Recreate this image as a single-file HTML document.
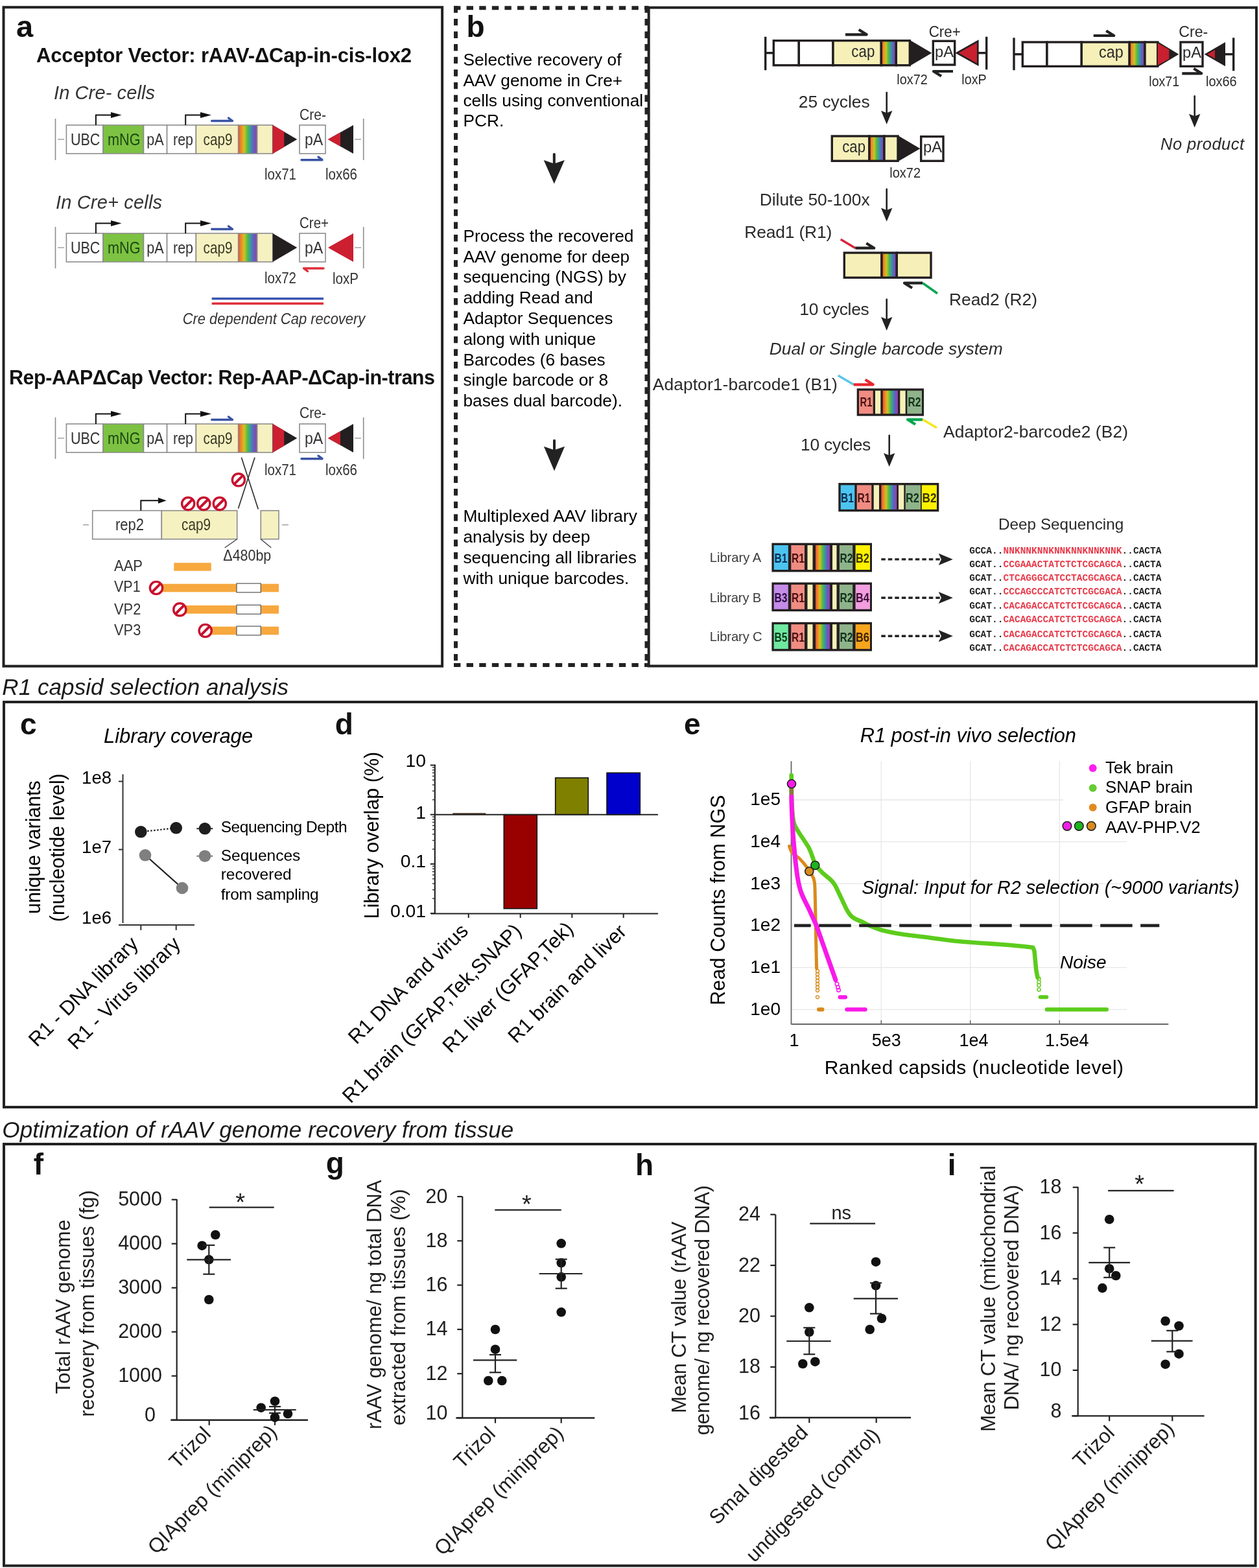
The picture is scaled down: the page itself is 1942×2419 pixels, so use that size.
<!DOCTYPE html>
<html><head><meta charset="utf-8"><title>Figure</title>
<style>html,body{margin:0;padding:0;background:#fff;}svg{display:block;}
text{font-family:"Liberation Sans",Arial,Helvetica,sans-serif;}</style></head>
<body><svg width="1942" height="2419" viewBox="0 0 1942 2419">
<rect width="1942" height="2419" fill="#fff"/>
<defs><linearGradient id="rb" x1="0" y1="0" x2="1" y2="0">
<stop offset="0" stop-color="#ee4a35"/><stop offset="0.15" stop-color="#f08a25"/><stop offset="0.32" stop-color="#c9c524"/>
<stop offset="0.48" stop-color="#55bb45"/><stop offset="0.64" stop-color="#3a9a9a"/><stop offset="0.8" stop-color="#5c62c2"/><stop offset="1" stop-color="#a03aa8"/></linearGradient></defs>
<rect x="5.5" y="11.2" width="676.6" height="1016.5" fill="none" stroke="#222" stroke-width="4.0" />
<text x="25.0" y="57.0" font-size="47.0" font-weight="bold" fill="#111">a</text>
<text x="56.0" y="96.0" font-size="31.0" font-weight="bold" fill="#111" textLength="579.0" lengthAdjust="spacing">Acceptor Vector: rAAV-ΔCap-in-cis-lox2</text>
<text x="83.0" y="153.3" font-size="29.0" font-style="italic" fill="#333" textLength="156.0" lengthAdjust="spacing">In Cre- cells</text>
<text x="86.0" y="321.7" font-size="29.0" font-style="italic" fill="#333" textLength="164.0" lengthAdjust="spacing">In Cre+ cells</text>
<line x1="85.5" y1="183.0" x2="85.5" y2="247.0" stroke="#8c8c8c" stroke-width="1.6" />
<line x1="89.0" y1="215.0" x2="99.0" y2="215.0" stroke="#8c8c8c" stroke-width="1.2" />
<rect x="102.4" y="193.0" width="56.7" height="44.0" fill="#fff" stroke="#8c8c8c" stroke-width="1.6" />
<rect x="159.1" y="193.0" width="62.4" height="44.0" fill="#7dc242" stroke="#8c8c8c" stroke-width="1.6" />
<rect x="221.5" y="193.0" width="36.1" height="44.0" fill="#fff" stroke="#8c8c8c" stroke-width="1.6" />
<rect x="257.6" y="193.0" width="44.8" height="44.0" fill="#fff" stroke="#8c8c8c" stroke-width="1.6" />
<rect x="302.4" y="193.0" width="65.3" height="44.0" fill="#f6f1c1" stroke="#8c8c8c" stroke-width="1.6" />
<rect x="367.7" y="193.0" width="29.0" height="44.0" fill="url(#rb)" stroke="#8c8c8c" stroke-width="1.6" />
<rect x="396.7" y="193.0" width="24.0" height="44.0" fill="#f6f1c1" stroke="#8c8c8c" stroke-width="1.6" />
<polygon points="420.7,193.0 420.7,237.0 458.3,215.0" fill="#231f20" stroke="none" stroke-width="1.0" />
<polygon points="420.7,193.0 438.3,203.3 438.3,226.7 420.7,237.0" fill="#cc1f30" stroke="none" stroke-width="1.0" />
<rect x="462.0" y="193.0" width="40.0" height="44.0" fill="#fff" stroke="#8c8c8c" stroke-width="1.6" />
<polygon points="506.0,215.0 545.0,193.0 545.0,237.0" fill="#231f20" stroke="none" stroke-width="1.0" />
<polygon points="506.0,215.0 525.0,204.3 525.0,225.7" fill="#cc1f30" stroke="none" stroke-width="1.0" />
<line x1="547.0" y1="215.0" x2="557.0" y2="215.0" stroke="#8c8c8c" stroke-width="1.2" />
<line x1="560.7" y1="183.0" x2="560.7" y2="247.0" stroke="#8c8c8c" stroke-width="1.6" />
<text x="108.9" y="223.7" font-size="25.6" fill="#333" textLength="45.5" lengthAdjust="spacingAndGlyphs">UBC</text>
<text x="166.0" y="223.7" font-size="25.6" fill="#1b4a12" textLength="50.5" lengthAdjust="spacingAndGlyphs">mNG</text>
<text x="226.2" y="223.7" font-size="25.6" fill="#333" textLength="26.4" lengthAdjust="spacingAndGlyphs">pA</text>
<text x="267.0" y="223.7" font-size="25.6" fill="#333" textLength="31.0" lengthAdjust="spacingAndGlyphs">rep</text>
<text x="313.5" y="223.7" font-size="25.6" fill="#3b3a25" textLength="45.0" lengthAdjust="spacingAndGlyphs">cap9</text>
<text x="470.0" y="223.7" font-size="25.6" fill="#333" textLength="28.3" lengthAdjust="spacingAndGlyphs">pA</text>
<polyline points="147.9,193.0 147.9,177.5 173.0,177.5" fill="none" stroke="#111" stroke-width="2.0" />
<polygon points="171.0,173.0 187.6,177.5 171.0,182.0" fill="#111" stroke="none" stroke-width="1.0" />
<polyline points="286.2,193.0 286.2,177.5 311.0,177.5" fill="none" stroke="#111" stroke-width="2.0" />
<polygon points="309.0,173.0 326.0,177.5 309.0,182.0" fill="#111" stroke="none" stroke-width="1.0" />
<polyline points="326.7,186.5 358.5,186.5 352.5,182.0" fill="none" stroke="#3953a4" stroke-width="3.4" stroke-linejoin="round" stroke-linecap="round"/>
<text x="462.0" y="185.0" font-size="23.0" fill="#333" textLength="41.0" lengthAdjust="spacingAndGlyphs">Cre-</text>
<text x="408.0" y="276.7" font-size="23.0" fill="#333" textLength="49.0" lengthAdjust="spacingAndGlyphs">lox71</text>
<text x="502.0" y="276.7" font-size="23.0" fill="#333" textLength="49.0" lengthAdjust="spacingAndGlyphs">lox66</text>
<polyline points="465.0,246.7 497.0,246.7 491.0,242.2" fill="none" stroke="#3953a4" stroke-width="3.4" stroke-linejoin="round" stroke-linecap="round"/>
<line x1="85.5" y1="350.0" x2="85.5" y2="414.0" stroke="#8c8c8c" stroke-width="1.6" />
<line x1="89.0" y1="382.0" x2="99.0" y2="382.0" stroke="#8c8c8c" stroke-width="1.2" />
<rect x="102.4" y="360.0" width="56.7" height="44.0" fill="#fff" stroke="#8c8c8c" stroke-width="1.6" />
<rect x="159.1" y="360.0" width="62.4" height="44.0" fill="#7dc242" stroke="#8c8c8c" stroke-width="1.6" />
<rect x="221.5" y="360.0" width="36.1" height="44.0" fill="#fff" stroke="#8c8c8c" stroke-width="1.6" />
<rect x="257.6" y="360.0" width="44.8" height="44.0" fill="#fff" stroke="#8c8c8c" stroke-width="1.6" />
<rect x="302.4" y="360.0" width="65.3" height="44.0" fill="#f6f1c1" stroke="#8c8c8c" stroke-width="1.6" />
<rect x="367.7" y="360.0" width="29.0" height="44.0" fill="url(#rb)" stroke="#8c8c8c" stroke-width="1.6" />
<rect x="396.7" y="360.0" width="24.0" height="44.0" fill="#f6f1c1" stroke="#8c8c8c" stroke-width="1.6" />
<polygon points="420.7,360.0 420.7,404.0 458.3,382.0" fill="#231f20" stroke="none" stroke-width="1.0" />
<rect x="462.0" y="360.0" width="40.0" height="44.0" fill="#fff" stroke="#8c8c8c" stroke-width="1.6" />
<polygon points="506.0,382.0 545.0,360.0 545.0,404.0" fill="#cc1f30" stroke="none" stroke-width="1.0" />
<line x1="547.0" y1="382.0" x2="557.0" y2="382.0" stroke="#8c8c8c" stroke-width="1.2" />
<line x1="560.7" y1="350.0" x2="560.7" y2="414.0" stroke="#8c8c8c" stroke-width="1.6" />
<text x="108.9" y="390.7" font-size="25.6" fill="#333" textLength="45.5" lengthAdjust="spacingAndGlyphs">UBC</text>
<text x="166.0" y="390.7" font-size="25.6" fill="#1b4a12" textLength="50.5" lengthAdjust="spacingAndGlyphs">mNG</text>
<text x="226.2" y="390.7" font-size="25.6" fill="#333" textLength="26.4" lengthAdjust="spacingAndGlyphs">pA</text>
<text x="267.0" y="390.7" font-size="25.6" fill="#333" textLength="31.0" lengthAdjust="spacingAndGlyphs">rep</text>
<text x="313.5" y="390.7" font-size="25.6" fill="#3b3a25" textLength="45.0" lengthAdjust="spacingAndGlyphs">cap9</text>
<text x="470.0" y="390.7" font-size="25.6" fill="#333" textLength="28.3" lengthAdjust="spacingAndGlyphs">pA</text>
<polyline points="147.9,360.0 147.9,344.5 173.0,344.5" fill="none" stroke="#111" stroke-width="2.0" />
<polygon points="171.0,340.0 187.6,344.5 171.0,349.0" fill="#111" stroke="none" stroke-width="1.0" />
<polyline points="286.2,360.0 286.2,344.5 311.0,344.5" fill="none" stroke="#111" stroke-width="2.0" />
<polygon points="309.0,340.0 326.0,344.5 309.0,349.0" fill="#111" stroke="none" stroke-width="1.0" />
<polyline points="326.7,353.5 358.5,353.5 352.5,349.0" fill="none" stroke="#3953a4" stroke-width="3.4" stroke-linejoin="round" stroke-linecap="round"/>
<text x="462.0" y="351.7" font-size="23.0" fill="#333" textLength="45.0" lengthAdjust="spacingAndGlyphs">Cre+</text>
<text x="408.0" y="436.7" font-size="23.0" fill="#333" textLength="49.0" lengthAdjust="spacingAndGlyphs">lox72</text>
<text x="513.0" y="438.0" font-size="23.0" fill="#333" textLength="40.0" lengthAdjust="spacingAndGlyphs">loxP</text>
<polyline points="499.0,414.0 468.5,414.0 474.5,418.5" fill="none" stroke="#e0303a" stroke-width="3.4" stroke-linejoin="round" stroke-linecap="round"/>
<line x1="326.7" y1="460.7" x2="499.0" y2="460.7" stroke="#3a56b0" stroke-width="3.4" />
<line x1="326.7" y1="468.3" x2="499.0" y2="468.3" stroke="#e0303a" stroke-width="3.4" />
<text x="281.7" y="500.0" font-size="24.5" font-style="italic" fill="#333" textLength="281.6" lengthAdjust="spacingAndGlyphs">Cre dependent Cap recovery</text>
<text x="14.0" y="592.7" font-size="30.5" font-weight="bold" fill="#111" textLength="657.0" lengthAdjust="spacing">Rep-AAPΔCap Vector: Rep-AAP-ΔCap-in-trans</text>
<line x1="85.5" y1="644.0" x2="85.5" y2="708.0" stroke="#8c8c8c" stroke-width="1.6" />
<line x1="89.0" y1="676.0" x2="99.0" y2="676.0" stroke="#8c8c8c" stroke-width="1.2" />
<rect x="102.4" y="654.0" width="56.7" height="44.0" fill="#fff" stroke="#8c8c8c" stroke-width="1.6" />
<rect x="159.1" y="654.0" width="62.4" height="44.0" fill="#7dc242" stroke="#8c8c8c" stroke-width="1.6" />
<rect x="221.5" y="654.0" width="36.1" height="44.0" fill="#fff" stroke="#8c8c8c" stroke-width="1.6" />
<rect x="257.6" y="654.0" width="44.8" height="44.0" fill="#fff" stroke="#8c8c8c" stroke-width="1.6" />
<rect x="302.4" y="654.0" width="65.3" height="44.0" fill="#f6f1c1" stroke="#8c8c8c" stroke-width="1.6" />
<rect x="367.7" y="654.0" width="29.0" height="44.0" fill="url(#rb)" stroke="#8c8c8c" stroke-width="1.6" />
<rect x="396.7" y="654.0" width="24.0" height="44.0" fill="#f6f1c1" stroke="#8c8c8c" stroke-width="1.6" />
<polygon points="420.7,654.0 420.7,698.0 458.3,676.0" fill="#231f20" stroke="none" stroke-width="1.0" />
<polygon points="420.7,654.0 438.3,664.3 438.3,687.7 420.7,698.0" fill="#cc1f30" stroke="none" stroke-width="1.0" />
<rect x="462.0" y="654.0" width="40.0" height="44.0" fill="#fff" stroke="#8c8c8c" stroke-width="1.6" />
<polygon points="506.0,676.0 545.0,654.0 545.0,698.0" fill="#231f20" stroke="none" stroke-width="1.0" />
<polygon points="506.0,676.0 525.0,665.3 525.0,686.7" fill="#cc1f30" stroke="none" stroke-width="1.0" />
<line x1="547.0" y1="676.0" x2="557.0" y2="676.0" stroke="#8c8c8c" stroke-width="1.2" />
<line x1="560.7" y1="644.0" x2="560.7" y2="708.0" stroke="#8c8c8c" stroke-width="1.6" />
<text x="108.9" y="684.7" font-size="25.6" fill="#333" textLength="45.5" lengthAdjust="spacingAndGlyphs">UBC</text>
<text x="166.0" y="684.7" font-size="25.6" fill="#1b4a12" textLength="50.5" lengthAdjust="spacingAndGlyphs">mNG</text>
<text x="226.2" y="684.7" font-size="25.6" fill="#333" textLength="26.4" lengthAdjust="spacingAndGlyphs">pA</text>
<text x="267.0" y="684.7" font-size="25.6" fill="#333" textLength="31.0" lengthAdjust="spacingAndGlyphs">rep</text>
<text x="313.5" y="684.7" font-size="25.6" fill="#3b3a25" textLength="45.0" lengthAdjust="spacingAndGlyphs">cap9</text>
<text x="470.0" y="684.7" font-size="25.6" fill="#333" textLength="28.3" lengthAdjust="spacingAndGlyphs">pA</text>
<polyline points="147.9,654.0 147.9,638.5 173.0,638.5" fill="none" stroke="#111" stroke-width="2.0" />
<polygon points="171.0,634.0 187.6,638.5 171.0,643.0" fill="#111" stroke="none" stroke-width="1.0" />
<polyline points="286.2,654.0 286.2,638.5 311.0,638.5" fill="none" stroke="#111" stroke-width="2.0" />
<polygon points="309.0,634.0 326.0,638.5 309.0,643.0" fill="#111" stroke="none" stroke-width="1.0" />
<polyline points="326.7,647.5 358.5,647.5 352.5,643.0" fill="none" stroke="#3953a4" stroke-width="3.4" stroke-linejoin="round" stroke-linecap="round"/>
<text x="462.0" y="645.0" font-size="23.0" fill="#333" textLength="41.0" lengthAdjust="spacingAndGlyphs">Cre-</text>
<text x="408.0" y="733.3" font-size="23.0" fill="#333" textLength="49.0" lengthAdjust="spacingAndGlyphs">lox71</text>
<text x="502.0" y="733.3" font-size="23.0" fill="#333" textLength="49.0" lengthAdjust="spacingAndGlyphs">lox66</text>
<polyline points="465.0,707.7 497.0,707.7 491.0,703.2" fill="none" stroke="#3953a4" stroke-width="3.4" stroke-linejoin="round" stroke-linecap="round"/>
<line x1="372.4" y1="705.8" x2="398.3" y2="785.4" stroke="#333" stroke-width="1.7" />
<line x1="393.0" y1="705.8" x2="367.5" y2="784.6" stroke="#333" stroke-width="1.7" />
<circle cx="367.9" cy="740.3" r="9.6" fill="#fff" stroke="#c8102e" stroke-width="3.4" />
<line x1="361.3" y1="746.9" x2="374.5" y2="733.7" stroke="#c8102e" stroke-width="4.0" />
<line x1="128.0" y1="809.7" x2="137.0" y2="809.7" stroke="#8c8c8c" stroke-width="1.2" />
<rect x="142.7" y="787.7" width="106.6" height="44.0" fill="#fff" stroke="#8c8c8c" stroke-width="1.6" />
<rect x="249.3" y="787.7" width="116.4" height="44.0" fill="#f6f1c1" stroke="#8c8c8c" stroke-width="1.6" />
<rect x="402.3" y="787.7" width="27.7" height="44.0" fill="#f6f1c1" stroke="#8c8c8c" stroke-width="1.6" />
<line x1="435.0" y1="809.7" x2="445.0" y2="809.7" stroke="#8c8c8c" stroke-width="1.2" />
<text x="178.0" y="818.3" font-size="25.6" fill="#333" textLength="44.0" lengthAdjust="spacingAndGlyphs">rep2</text>
<text x="280.0" y="818.3" font-size="25.6" fill="#3b3a25" textLength="45.0" lengthAdjust="spacingAndGlyphs">cap9</text>
<polyline points="217.3,787.7 217.3,772.2 246.0,772.2" fill="none" stroke="#111" stroke-width="2.0" />
<polygon points="244.0,767.7 256.7,772.2 244.0,776.7" fill="#111" stroke="none" stroke-width="1.0" />
<circle cx="290.2" cy="777.1" r="9.6" fill="#fff" stroke="#c8102e" stroke-width="3.4" />
<line x1="283.6" y1="783.7" x2="296.8" y2="770.5" stroke="#c8102e" stroke-width="4.0" />
<circle cx="314.3" cy="777.1" r="9.6" fill="#fff" stroke="#c8102e" stroke-width="3.4" />
<line x1="307.7" y1="783.7" x2="320.9" y2="770.5" stroke="#c8102e" stroke-width="4.0" />
<circle cx="338.8" cy="777.1" r="9.6" fill="#fff" stroke="#c8102e" stroke-width="3.4" />
<line x1="332.2" y1="783.7" x2="345.4" y2="770.5" stroke="#c8102e" stroke-width="4.0" />
<line x1="365.7" y1="831.7" x2="346.7" y2="845.0" stroke="#444" stroke-width="1.4" />
<line x1="402.3" y1="831.7" x2="418.3" y2="845.0" stroke="#444" stroke-width="1.4" />
<text x="344.3" y="865.0" font-size="24.0" fill="#333" textLength="74.0" lengthAdjust="spacingAndGlyphs">Δ480bp</text>
<text x="176.0" y="880.7" font-size="24.0" fill="#333" textLength="44.0" lengthAdjust="spacingAndGlyphs">AAP</text>
<rect x="268.3" y="868.3" width="57.4" height="12.4" fill="#f7a83e" stroke="none" stroke-width="1.0" />
<text x="176.0" y="913.3" font-size="24.0" fill="#333" textLength="40.7" lengthAdjust="spacingAndGlyphs">VP1</text>
<text x="176.0" y="948.3" font-size="24.0" fill="#333" textLength="41.3" lengthAdjust="spacingAndGlyphs">VP2</text>
<text x="176.0" y="980.0" font-size="24.0" fill="#333" textLength="41.3" lengthAdjust="spacingAndGlyphs">VP3</text>
<rect x="248.3" y="900.7" width="181.7" height="12.6" fill="#f7a83e" stroke="none" stroke-width="1.0" />
<rect x="365.0" y="900.1" width="37.3" height="13.8" fill="#fff" stroke="#555" stroke-width="1.2" />
<circle cx="241.0" cy="907.0" r="9.6" fill="#fff" stroke="#c8102e" stroke-width="3.4" />
<line x1="234.4" y1="913.6" x2="247.6" y2="900.4" stroke="#c8102e" stroke-width="4.0" />
<rect x="286.7" y="934.0" width="143.3" height="12.7" fill="#f7a83e" stroke="none" stroke-width="1.0" />
<rect x="365.0" y="933.4" width="37.3" height="13.9" fill="#fff" stroke="#555" stroke-width="1.2" />
<circle cx="277.3" cy="940.4" r="9.6" fill="#fff" stroke="#c8102e" stroke-width="3.4" />
<line x1="270.7" y1="947.0" x2="283.9" y2="933.8" stroke="#c8102e" stroke-width="4.0" />
<rect x="325.0" y="966.7" width="105.0" height="12.6" fill="#f7a83e" stroke="none" stroke-width="1.0" />
<rect x="365.0" y="966.1" width="37.3" height="13.8" fill="#fff" stroke="#555" stroke-width="1.2" />
<circle cx="316.7" cy="973.0" r="9.6" fill="#fff" stroke="#c8102e" stroke-width="3.4" />
<line x1="310.1" y1="979.6" x2="323.3" y2="966.4" stroke="#c8102e" stroke-width="4.0" />
<line x1="700.0" y1="12.3" x2="1000.5" y2="12.3" stroke="#222" stroke-width="6.0" stroke-dasharray="10.4 9.2"/>
<line x1="700.0" y1="1026.1" x2="1000.5" y2="1026.1" stroke="#222" stroke-width="6.0" stroke-dasharray="10.4 9.2"/>
<line x1="703.0" y1="9.3" x2="703.0" y2="1029.0" stroke="#222" stroke-width="6.0" stroke-dasharray="10.4 9.2"/>
<line x1="997.5" y1="9.3" x2="997.5" y2="1029.0" stroke="#222" stroke-width="6.0" stroke-dasharray="10.4 9.2"/>
<text x="719.5" y="56.7" font-size="46.0" font-weight="bold" fill="#111">b</text>
<text x="714.4" y="101.1" font-size="26.3">Selective recovery of</text>
<text x="714.4" y="132.5" font-size="26.3">AAV genome in Cre+</text>
<text x="714.4" y="163.9" font-size="26.3">cells using conventional</text>
<text x="714.4" y="195.3" font-size="26.3">PCR.</text>
<text x="714.4" y="372.7" font-size="26.3">Process the recovered</text>
<text x="714.4" y="404.5" font-size="26.3">AAV genome for deep</text>
<text x="714.4" y="436.3" font-size="26.3">sequencing (NGS) by</text>
<text x="714.4" y="468.1" font-size="26.3">adding Read and</text>
<text x="714.4" y="499.9" font-size="26.3">Adaptor Sequences</text>
<text x="714.4" y="531.7" font-size="26.3">along with unique</text>
<text x="714.4" y="563.5" font-size="26.3">Barcodes (6 bases</text>
<text x="714.4" y="595.3" font-size="26.3">single barcode or 8</text>
<text x="714.4" y="627.1" font-size="26.3">bases dual barcode).</text>
<text x="714.4" y="805.3" font-size="26.3">Multiplexed AAV library</text>
<text x="714.4" y="837.1" font-size="26.3">analysis by deep</text>
<text x="714.4" y="868.9" font-size="26.3">sequencing all libraries</text>
<text x="714.4" y="900.7" font-size="26.3">with unique barcodes.</text>
<line x1="854.8" y1="237.9" x2="854.8" y2="255.0" stroke="#222" stroke-width="4.0" stroke-linecap="round"/>
<polygon points="838.7,247.0 854.8,252.5 870.9,247.0 854.8,283.6" fill="#222" stroke="none" stroke-width="1.0" />
<line x1="855.0" y1="679.7" x2="855.0" y2="696.8" stroke="#222" stroke-width="4.0" stroke-linecap="round"/>
<polygon points="838.9,688.8 855.0,694.3 871.1,688.8 855.0,726.5" fill="#222" stroke="none" stroke-width="1.0" />
<rect x="1000.7" y="11.7" width="937.3" height="1015.8" fill="none" stroke="#222" stroke-width="4.0" />
<line x1="1180.7" y1="56.7" x2="1180.7" y2="108.3" stroke="#231f20" stroke-width="3.4" />
<line x1="1180.7" y1="81.7" x2="1193.3" y2="81.7" stroke="#231f20" stroke-width="3.4" />
<rect x="1193.3" y="62.7" width="39.0" height="38.0" fill="#fff" stroke="#231f20" stroke-width="3.4" />
<rect x="1232.3" y="62.7" width="52.7" height="38.0" fill="#fff" stroke="#231f20" stroke-width="3.4" />
<rect x="1285.0" y="62.7" width="74.3" height="38.0" fill="#f6f0b8" stroke="#231f20" stroke-width="3.4" />
<rect x="1359.3" y="62.7" width="23.0" height="38.0" fill="url(#rb)" stroke="#231f20" stroke-width="3.4" />
<rect x="1382.3" y="62.7" width="21.0" height="38.0" fill="#f6f0b8" stroke="#231f20" stroke-width="3.4" />
<polygon points="1403.3,61.7 1403.3,101.7 1437.3,81.7" fill="#231f20" stroke="none" stroke-width="1.0" />
<rect x="1439.3" y="63.3" width="33.4" height="36.7" fill="#fff" stroke="#231f20" stroke-width="3.4" />
<polygon points="1476.0,81.7 1508.3,63.5 1508.3,99.9" fill="#c8202f" stroke="#231f20" stroke-width="2.6" />
<line x1="1508.3" y1="81.7" x2="1521.7" y2="81.7" stroke="#231f20" stroke-width="3.4" />
<line x1="1521.7" y1="56.7" x2="1521.7" y2="107.3" stroke="#231f20" stroke-width="3.4" />
<text x="1313.3" y="88.3" font-size="25.0" fill="#2a2a2a" textLength="36.0" lengthAdjust="spacingAndGlyphs">cap</text>
<text x="1442.0" y="88.3" font-size="23.0" fill="#2a2a2a" textLength="29.0" lengthAdjust="spacingAndGlyphs">pA</text>
<text x="1432.7" y="56.7" font-size="23.5" fill="#2a2a2a" textLength="49.0" lengthAdjust="spacingAndGlyphs">Cre+</text>
<text x="1383.3" y="130.0" font-size="21.5" fill="#2a2a2a" textLength="47.4" lengthAdjust="spacingAndGlyphs">lox72</text>
<text x="1483.3" y="130.0" font-size="21.5" fill="#2a2a2a" textLength="38.4" lengthAdjust="spacingAndGlyphs">loxP</text>
<polyline points="1304.0,53.3 1336.7,53.3 1324.7,45.8" fill="none" stroke="#222" stroke-width="4.2" stroke-linejoin="round"/>
<polyline points="1470.0,110.0 1440.0,110.0 1452.0,117.5" fill="none" stroke="#222" stroke-width="4.2" stroke-linejoin="round"/>
<line x1="1564.0" y1="58.3" x2="1564.0" y2="108.3" stroke="#231f20" stroke-width="3.4" />
<line x1="1564.0" y1="83.7" x2="1577.3" y2="83.7" stroke="#231f20" stroke-width="3.4" />
<rect x="1577.3" y="65.0" width="37.7" height="37.3" fill="#fff" stroke="#231f20" stroke-width="3.4" />
<rect x="1615.0" y="65.0" width="53.3" height="37.3" fill="#fff" stroke="#231f20" stroke-width="3.4" />
<rect x="1668.3" y="65.0" width="73.9" height="37.3" fill="#f6f0b8" stroke="#231f20" stroke-width="3.4" />
<rect x="1742.2" y="65.0" width="23.8" height="37.3" fill="url(#rb)" stroke="#231f20" stroke-width="3.4" />
<rect x="1766.0" y="65.0" width="19.7" height="37.3" fill="#f6f0b8" stroke="#231f20" stroke-width="3.4" />
<polygon points="1785.7,64.0 1785.7,103.3 1818.3,83.7" fill="#231f20" stroke="none" stroke-width="1.0" />
<polygon points="1785.7,66.5 1803.3,76.5 1803.3,90.8 1785.7,100.8" fill="#c8202f" stroke="none" stroke-width="1.0" />
<rect x="1821.0" y="65.0" width="34.0" height="37.3" fill="#fff" stroke="#231f20" stroke-width="3.4" />
<polygon points="1857.7,83.7 1890.0,65.0 1890.0,102.3" fill="#231f20" stroke="none" stroke-width="1.0" />
<polygon points="1862.5,83.7 1874.0,77.0 1874.0,90.4" fill="#c8202f" stroke="none" stroke-width="1.0" />
<line x1="1890.0" y1="83.7" x2="1902.7" y2="83.7" stroke="#231f20" stroke-width="3.4" />
<line x1="1902.7" y1="58.3" x2="1902.7" y2="109.3" stroke="#231f20" stroke-width="3.4" />
<text x="1695.0" y="89.3" font-size="25.0" fill="#2a2a2a" textLength="37.7" lengthAdjust="spacingAndGlyphs">cap</text>
<text x="1824.0" y="89.3" font-size="23.0" fill="#2a2a2a" textLength="29.0" lengthAdjust="spacingAndGlyphs">pA</text>
<text x="1818.3" y="57.3" font-size="23.5" fill="#2a2a2a" textLength="45.0" lengthAdjust="spacingAndGlyphs">Cre-</text>
<text x="1772.3" y="132.7" font-size="21.5" fill="#2a2a2a" textLength="46.7" lengthAdjust="spacingAndGlyphs">lox71</text>
<text x="1860.0" y="132.7" font-size="21.5" fill="#2a2a2a" textLength="47.7" lengthAdjust="spacingAndGlyphs">lox66</text>
<polyline points="1686.7,55.0 1718.3,55.0 1706.3,47.5" fill="none" stroke="#222" stroke-width="4.2" stroke-linejoin="round"/>
<polyline points="1823.3,113.3 1853.3,113.3 1841.3,105.8" fill="none" stroke="#222" stroke-width="4.2" stroke-linejoin="round"/>
<line x1="1842.7" y1="148.3" x2="1842.7" y2="186.7" stroke="#222" stroke-width="2.6" stroke-linecap="round"/>
<polygon points="1834.0,175.7 1842.7,179.3 1851.4,175.7 1842.7,196.7" fill="#222" stroke="none" stroke-width="1.0" />
<text x="1790.0" y="230.7" font-size="25.5" font-style="italic" fill="#2a2a2a" textLength="129.0" lengthAdjust="spacing">No product</text>
<text x="1231.7" y="165.7" font-size="26.4" fill="#2a2a2a" textLength="110.0" lengthAdjust="spacing">25 cycles</text>
<line x1="1367.7" y1="142.7" x2="1367.7" y2="181.7" stroke="#222" stroke-width="2.6" stroke-linecap="round"/>
<polygon points="1359.0,170.7 1367.7,174.3 1376.4,170.7 1367.7,191.7" fill="#222" stroke="none" stroke-width="1.0" />
<rect x="1283.3" y="210.0" width="57.7" height="38.3" fill="#f6f0b8" stroke="#231f20" stroke-width="3.4" />
<rect x="1341.0" y="210.0" width="23.0" height="38.3" fill="url(#rb)" stroke="#231f20" stroke-width="3.4" />
<rect x="1364.0" y="210.0" width="21.0" height="38.3" fill="#f6f0b8" stroke="#231f20" stroke-width="3.4" />
<polygon points="1385.0,209.0 1385.0,249.3 1419.3,229.2" fill="#231f20" stroke="none" stroke-width="1.0" />
<rect x="1420.7" y="210.7" width="34.3" height="37.6" fill="#fff" stroke="#231f20" stroke-width="3.4" />
<text x="1299.3" y="235.0" font-size="25.0" fill="#2a2a2a" textLength="35.7" lengthAdjust="spacingAndGlyphs">cap</text>
<text x="1424.0" y="235.0" font-size="23.0" fill="#2a2a2a" textLength="29.0" lengthAdjust="spacingAndGlyphs">pA</text>
<text x="1372.3" y="274.0" font-size="21.5" fill="#2a2a2a" textLength="47.7" lengthAdjust="spacingAndGlyphs">lox72</text>
<text x="1171.7" y="316.7" font-size="26.4" fill="#2a2a2a" textLength="170.0" lengthAdjust="spacing">Dilute 50-100x</text>
<line x1="1367.7" y1="291.7" x2="1367.7" y2="331.7" stroke="#222" stroke-width="2.6" stroke-linecap="round"/>
<polygon points="1359.0,320.7 1367.7,324.3 1376.4,320.7 1367.7,341.7" fill="#222" stroke="none" stroke-width="1.0" />
<text x="1148.3" y="367.3" font-size="26.4" fill="#2a2a2a" textLength="135.0" lengthAdjust="spacing">Read1 (R1)</text>
<line x1="1296.7" y1="369.3" x2="1319.3" y2="382.7" stroke="#d7263d" stroke-width="3.6" />
<polyline points="1319.3,382.7 1348.3,382.7 1336.3,375.2" fill="none" stroke="#222" stroke-width="4.2" stroke-linejoin="round"/>
<rect x="1302.3" y="390.0" width="57.7" height="38.3" fill="#f6f0b8" stroke="#231f20" stroke-width="3.4" />
<rect x="1360.0" y="390.0" width="23.3" height="38.3" fill="url(#rb)" stroke="#231f20" stroke-width="3.4" />
<rect x="1383.3" y="390.0" width="52.7" height="38.3" fill="#f6f0b8" stroke="#231f20" stroke-width="3.4" />
<polyline points="1423.3,436.7 1395.0,436.7 1407.0,444.2" fill="none" stroke="#222" stroke-width="4.2" stroke-linejoin="round"/>
<line x1="1423.3" y1="436.7" x2="1446.0" y2="452.7" stroke="#00a651" stroke-width="3.6" />
<text x="1464.0" y="470.7" font-size="26.4" fill="#2a2a2a" textLength="136.0" lengthAdjust="spacing">Read2 (R2)</text>
<text x="1233.3" y="485.7" font-size="26.4" fill="#2a2a2a" textLength="107.4" lengthAdjust="spacing">10 cycles</text>
<line x1="1367.7" y1="461.7" x2="1367.7" y2="500.0" stroke="#222" stroke-width="2.6" stroke-linecap="round"/>
<polygon points="1359.0,489.0 1367.7,492.6 1376.4,489.0 1367.7,510.0" fill="#222" stroke="none" stroke-width="1.0" />
<text x="1186.7" y="546.7" font-size="26.4" font-style="italic" fill="#2a2a2a" textLength="360.0" lengthAdjust="spacing">Dual or Single barcode system</text>
<text x="1006.7" y="601.7" font-size="26.4" fill="#2a2a2a" textLength="285.0" lengthAdjust="spacing">Adaptor1-barcode1 (B1)</text>
<line x1="1292.7" y1="579.3" x2="1316.7" y2="593.3" stroke="#5bc5e8" stroke-width="3.6" />
<polyline points="1316.7,593.3 1346.7,593.3 1334.7,585.8" fill="none" stroke="#e8262d" stroke-width="4.2" stroke-linejoin="round"/>
<rect x="1321.7" y="599.3" width="103.3" height="42.4" fill="#231f20" stroke="none" stroke-width="1.0" />
<rect x="1325.0" y="602.7" width="21.7" height="35.6" fill="#f08c82" stroke="none" stroke-width="1.0" />
<rect x="1350.0" y="602.7" width="8.3" height="35.6" fill="#f6f0b8" stroke="none" stroke-width="1.0" />
<rect x="1361.7" y="602.7" width="23.3" height="35.6" fill="url(#rb)" stroke="none" stroke-width="1.0" />
<rect x="1388.3" y="602.7" width="8.4" height="35.6" fill="#f6f0b8" stroke="none" stroke-width="1.0" />
<rect x="1399.3" y="602.7" width="22.7" height="35.6" fill="#8fb38a" stroke="none" stroke-width="1.0" />
<text x="1326.5" y="627.0" font-size="19.5" font-weight="bold" fill="#4a1010" textLength="19.0" lengthAdjust="spacingAndGlyphs">R1</text>
<text x="1400.5" y="627.0" font-size="19.5" font-weight="bold" fill="#12321a" textLength="20.0" lengthAdjust="spacingAndGlyphs">R2</text>
<polyline points="1423.3,647.3 1400.0,647.3 1412.0,654.8" fill="none" stroke="#00a651" stroke-width="4.2" stroke-linejoin="round"/>
<line x1="1423.3" y1="647.3" x2="1445.0" y2="660.0" stroke="#f5e61c" stroke-width="3.6" />
<text x="1455.0" y="675.0" font-size="26.4" fill="#2a2a2a" textLength="285.0" lengthAdjust="spacing">Adaptor2-barcode2 (B2)</text>
<text x="1235.0" y="695.0" font-size="26.4" fill="#2a2a2a" textLength="108.3" lengthAdjust="spacing">10 cycles</text>
<line x1="1371.7" y1="671.7" x2="1371.7" y2="710.0" stroke="#222" stroke-width="2.6" stroke-linecap="round"/>
<polygon points="1363.0,699.0 1371.7,702.6 1380.4,699.0 1371.7,720.0" fill="#222" stroke="none" stroke-width="1.0" />
<rect x="1293.3" y="745.0" width="155.0" height="44.3" fill="#231f20" stroke="none" stroke-width="1.0" />
<rect x="1296.7" y="748.4" width="21.6" height="37.5" fill="#4cc4f0" stroke="none" stroke-width="1.0" />
<rect x="1321.7" y="748.4" width="22.6" height="37.5" fill="#f08c82" stroke="none" stroke-width="1.0" />
<rect x="1347.7" y="748.4" width="8.3" height="37.5" fill="#f6f0b8" stroke="none" stroke-width="1.0" />
<rect x="1359.3" y="748.4" width="24.0" height="37.5" fill="url(#rb)" stroke="none" stroke-width="1.0" />
<rect x="1386.0" y="748.4" width="8.3" height="37.5" fill="#f6f0b8" stroke="none" stroke-width="1.0" />
<rect x="1396.7" y="748.4" width="23.3" height="37.5" fill="#8fb38a" stroke="none" stroke-width="1.0" />
<rect x="1421.7" y="748.4" width="23.3" height="37.5" fill="#fff200" stroke="none" stroke-width="1.0" />
<text x="1297.0" y="775.0" font-size="19.5" font-weight="bold" fill="#0b2d52" textLength="20.0" lengthAdjust="spacingAndGlyphs">B1</text>
<text x="1322.5" y="775.0" font-size="19.5" font-weight="bold" fill="#4a1010" textLength="20.0" lengthAdjust="spacingAndGlyphs">R1</text>
<text x="1397.0" y="775.0" font-size="19.5" font-weight="bold" fill="#12321a" textLength="21.0" lengthAdjust="spacingAndGlyphs">R2</text>
<text x="1422.5" y="775.0" font-size="19.5" font-weight="bold" fill="#3a3400" textLength="22.0" lengthAdjust="spacingAndGlyphs">B2</text>
<text x="1540.0" y="816.7" font-size="24.3" fill="#2a2a2a" textLength="193.3" lengthAdjust="spacing">Deep Sequencing</text>
<rect x="1190.4" y="837.7" width="154.6" height="44.7" fill="#231f20" stroke="none" stroke-width="1.0" />
<rect x="1193.7" y="841.1" width="22.1" height="37.9" fill="#4cc4f0" stroke="none" stroke-width="1.0" />
<rect x="1220.3" y="841.1" width="20.7" height="37.9" fill="#f08c82" stroke="none" stroke-width="1.0" />
<rect x="1245.5" y="841.1" width="8.0" height="37.9" fill="#f6f0b8" stroke="none" stroke-width="1.0" />
<rect x="1258.0" y="841.1" width="22.0" height="37.9" fill="url(#rb)" stroke="none" stroke-width="1.0" />
<rect x="1284.0" y="841.1" width="6.5" height="37.9" fill="#f6f0b8" stroke="none" stroke-width="1.0" />
<rect x="1294.9" y="841.1" width="20.3" height="37.9" fill="#8fb38a" stroke="none" stroke-width="1.0" />
<rect x="1319.6" y="841.1" width="22.4" height="37.9" fill="#fff200" stroke="none" stroke-width="1.0" />
<text x="1194.5" y="867.7" font-size="19.5" font-weight="bold" fill="#0b2d52" textLength="20.0" lengthAdjust="spacingAndGlyphs">B1</text>
<text x="1221.0" y="867.7" font-size="19.5" font-weight="bold" fill="#4a1010" textLength="20.0" lengthAdjust="spacingAndGlyphs">R1</text>
<text x="1295.5" y="867.7" font-size="19.5" font-weight="bold" fill="#12321a" textLength="20.0" lengthAdjust="spacingAndGlyphs">R2</text>
<text x="1320.0" y="867.7" font-size="19.5" font-weight="bold" fill="#3a3400" textLength="21.0" lengthAdjust="spacingAndGlyphs">B2</text>
<text x="1094.7" y="867.3" font-size="20.2" fill="#3c3c3c" textLength="79.6" lengthAdjust="spacing">Library A</text>
<line x1="1359.3" y1="862.9" x2="1450.0" y2="862.9" stroke="#222" stroke-width="3.4" stroke-dasharray="6.5 4"/>
<polygon points="1447.7,853.8 1469.8,862.9 1447.7,872.0 1452.0,862.9" fill="#222" stroke="none" stroke-width="1.0" />
<rect x="1190.4" y="898.5" width="154.6" height="44.7" fill="#231f20" stroke="none" stroke-width="1.0" />
<rect x="1193.7" y="901.9" width="22.1" height="37.9" fill="#c58be8" stroke="none" stroke-width="1.0" />
<rect x="1220.3" y="901.9" width="20.7" height="37.9" fill="#f08c82" stroke="none" stroke-width="1.0" />
<rect x="1245.5" y="901.9" width="8.0" height="37.9" fill="#f6f0b8" stroke="none" stroke-width="1.0" />
<rect x="1258.0" y="901.9" width="22.0" height="37.9" fill="url(#rb)" stroke="none" stroke-width="1.0" />
<rect x="1284.0" y="901.9" width="6.5" height="37.9" fill="#f6f0b8" stroke="none" stroke-width="1.0" />
<rect x="1294.9" y="901.9" width="20.3" height="37.9" fill="#8fb38a" stroke="none" stroke-width="1.0" />
<rect x="1319.6" y="901.9" width="22.4" height="37.9" fill="#f29ee0" stroke="none" stroke-width="1.0" />
<text x="1194.5" y="928.5" font-size="19.5" font-weight="bold" fill="#2a1040" textLength="20.0" lengthAdjust="spacingAndGlyphs">B3</text>
<text x="1221.0" y="928.5" font-size="19.5" font-weight="bold" fill="#4a1010" textLength="20.0" lengthAdjust="spacingAndGlyphs">R1</text>
<text x="1295.5" y="928.5" font-size="19.5" font-weight="bold" fill="#12321a" textLength="20.0" lengthAdjust="spacingAndGlyphs">R2</text>
<text x="1320.0" y="928.5" font-size="19.5" font-weight="bold" fill="#3d1035" textLength="21.0" lengthAdjust="spacingAndGlyphs">B4</text>
<text x="1094.7" y="928.5" font-size="20.2" fill="#3c3c3c" textLength="79.6" lengthAdjust="spacing">Library B</text>
<line x1="1359.3" y1="922.2" x2="1450.0" y2="922.2" stroke="#222" stroke-width="3.4" stroke-dasharray="6.5 4"/>
<polygon points="1447.7,913.1 1469.8,922.2 1447.7,931.3 1452.0,922.2" fill="#222" stroke="none" stroke-width="1.0" />
<rect x="1190.4" y="959.8" width="154.6" height="44.7" fill="#231f20" stroke="none" stroke-width="1.0" />
<rect x="1193.7" y="963.2" width="22.1" height="37.9" fill="#6fe8a0" stroke="none" stroke-width="1.0" />
<rect x="1220.3" y="963.2" width="20.7" height="37.9" fill="#f08c82" stroke="none" stroke-width="1.0" />
<rect x="1245.5" y="963.2" width="8.0" height="37.9" fill="#f6f0b8" stroke="none" stroke-width="1.0" />
<rect x="1258.0" y="963.2" width="22.0" height="37.9" fill="url(#rb)" stroke="none" stroke-width="1.0" />
<rect x="1284.0" y="963.2" width="6.5" height="37.9" fill="#f6f0b8" stroke="none" stroke-width="1.0" />
<rect x="1294.9" y="963.2" width="20.3" height="37.9" fill="#8fb38a" stroke="none" stroke-width="1.0" />
<rect x="1319.6" y="963.2" width="22.4" height="37.9" fill="#f7a51d" stroke="none" stroke-width="1.0" />
<text x="1194.5" y="989.8" font-size="19.5" font-weight="bold" fill="#0d3a1a" textLength="20.0" lengthAdjust="spacingAndGlyphs">B5</text>
<text x="1221.0" y="989.8" font-size="19.5" font-weight="bold" fill="#4a1010" textLength="20.0" lengthAdjust="spacingAndGlyphs">R1</text>
<text x="1295.5" y="989.8" font-size="19.5" font-weight="bold" fill="#12321a" textLength="20.0" lengthAdjust="spacingAndGlyphs">R2</text>
<text x="1320.0" y="989.8" font-size="19.5" font-weight="bold" fill="#3d2200" textLength="21.0" lengthAdjust="spacingAndGlyphs">B6</text>
<text x="1094.7" y="988.8" font-size="20.2" fill="#3c3c3c" textLength="81.0" lengthAdjust="spacing">Library C</text>
<line x1="1359.3" y1="981.2" x2="1450.0" y2="981.2" stroke="#222" stroke-width="3.4" stroke-dasharray="6.5 4"/>
<polygon points="1447.7,972.1 1469.8,981.2 1447.7,990.3 1452.0,981.2" fill="#222" stroke="none" stroke-width="1.0" />
<text x="1495.2" y="854.0" font-size="14.5" font-weight="bold" style='font-family:"Liberation Mono", "Courier New", monospace' textLength="296.3" lengthAdjust="spacingAndGlyphs" fill="#222">GCCA..<tspan fill="#e83a4a">NNKNNKNNKNNKNNKNNKNNK</tspan>..CACTA</text>
<text x="1495.2" y="875.3" font-size="14.5" font-weight="bold" style='font-family:"Liberation Mono", "Courier New", monospace' textLength="296.3" lengthAdjust="spacingAndGlyphs" fill="#222">GCAT..<tspan fill="#e83a4a">CCGAAACTATCTCTCGCAGCA</tspan>..CACTA</text>
<text x="1495.2" y="896.2" font-size="14.5" font-weight="bold" style='font-family:"Liberation Mono", "Courier New", monospace' textLength="296.3" lengthAdjust="spacingAndGlyphs" fill="#222">GCAT..<tspan fill="#e83a4a">CTCAGGGCATCCTACGCAGCA</tspan>..CACTA</text>
<text x="1495.2" y="917.3" font-size="14.5" font-weight="bold" style='font-family:"Liberation Mono", "Courier New", monospace' textLength="296.3" lengthAdjust="spacingAndGlyphs" fill="#222">GCAT..<tspan fill="#e83a4a">CCCAGCCCATCTCTCGCGACA</tspan>..CACTA</text>
<text x="1495.2" y="939.1" font-size="14.5" font-weight="bold" style='font-family:"Liberation Mono", "Courier New", monospace' textLength="296.3" lengthAdjust="spacingAndGlyphs" fill="#222">GCAT..<tspan fill="#e83a4a">CACAGACCATCTCTCGCAGCA</tspan>..CACTA</text>
<text x="1495.2" y="960.3" font-size="14.5" font-weight="bold" style='font-family:"Liberation Mono", "Courier New", monospace' textLength="296.3" lengthAdjust="spacingAndGlyphs" fill="#222">GCAT..<tspan fill="#e83a4a">CACAGACCATCTCTCGCAGCA</tspan>..CACTA</text>
<text x="1495.2" y="982.5" font-size="14.5" font-weight="bold" style='font-family:"Liberation Mono", "Courier New", monospace' textLength="296.3" lengthAdjust="spacingAndGlyphs" fill="#222">GCAT..<tspan fill="#e83a4a">CACAGACCATCTCTCGCAGCA</tspan>..CACTA</text>
<text x="1495.2" y="1003.8" font-size="14.5" font-weight="bold" style='font-family:"Liberation Mono", "Courier New", monospace' textLength="296.3" lengthAdjust="spacingAndGlyphs" fill="#222">GCAT..<tspan fill="#e83a4a">CACAGACCATCTCTCGCAGCA</tspan>..CACTA</text>
<rect x="6.0" y="1083.0" width="1932.0" height="625.0" fill="none" stroke="#222" stroke-width="4.0" />
<text x="3.3" y="1071.7" font-size="35.0" font-style="italic" fill="#1a1a1a" textLength="441.7" lengthAdjust="spacing">R1 capsid selection analysis</text>
<text x="31.0" y="1133.3" font-size="46.0" font-weight="bold" fill="#111">c</text>
<text x="160.0" y="1146.0" font-size="31.0" font-style="italic" textLength="230.0" lengthAdjust="spacing">Library coverage</text>
<text x="62.2" y="1307.1" font-size="30.5" text-anchor="middle" textLength="205.8" lengthAdjust="spacing" transform="rotate(-90.0 62.2 1307.1)">unique variants</text>
<text x="98.6" y="1307.7" font-size="30.5" text-anchor="middle" textLength="229.0" lengthAdjust="spacing" transform="rotate(-90.0 98.6 1307.7)">(nucleotide level)</text>
<line x1="189.5" y1="1194.4" x2="189.5" y2="1424.0" stroke="#333" stroke-width="2.0" />
<line x1="183.0" y1="1205.5" x2="189.5" y2="1205.5" stroke="#333" stroke-width="2.0" />
<line x1="183.0" y1="1310.6" x2="189.5" y2="1310.6" stroke="#333" stroke-width="2.0" />
<line x1="183.0" y1="1426.9" x2="300.0" y2="1426.9" stroke="#333" stroke-width="2.0" />
<line x1="217.3" y1="1426.9" x2="217.3" y2="1435.0" stroke="#333" stroke-width="2.0" />
<line x1="271.7" y1="1426.9" x2="271.7" y2="1435.0" stroke="#333" stroke-width="2.0" />
<text x="172.0" y="1208.7" font-size="27.5" text-anchor="end">1e8</text>
<text x="172.0" y="1315.5" font-size="27.5" text-anchor="end">1e7</text>
<text x="172.0" y="1424.5" font-size="27.5" text-anchor="end">1e6</text>
<line x1="217.3" y1="1283.3" x2="271.7" y2="1277.3" stroke="#222" stroke-width="2.2" stroke-dasharray="2.5 2.5"/>
<line x1="224.0" y1="1319.3" x2="281.0" y2="1370.0" stroke="#222" stroke-width="2.2" />
<circle cx="217.3" cy="1283.3" r="9.3" fill="#1e1e1e" stroke="none" stroke-width="1.0" />
<circle cx="271.7" cy="1277.3" r="9.3" fill="#1e1e1e" stroke="none" stroke-width="1.0" />
<circle cx="224.0" cy="1319.3" r="9.3" fill="#7f7f80" stroke="none" stroke-width="1.0" />
<circle cx="281.0" cy="1370.0" r="9.3" fill="#7f7f80" stroke="none" stroke-width="1.0" />
<line x1="303.3" y1="1278.3" x2="328.3" y2="1278.3" stroke="#222" stroke-width="2.0" />
<circle cx="316.0" cy="1278.3" r="9.3" fill="#1e1e1e" stroke="none" stroke-width="1.0" />
<line x1="303.3" y1="1320.7" x2="328.3" y2="1320.7" stroke="#777" stroke-width="2.0" />
<circle cx="316.0" cy="1320.7" r="9.3" fill="#7f7f80" stroke="none" stroke-width="1.0" />
<text x="340.7" y="1284.0" font-size="24.5" textLength="195.0" lengthAdjust="spacing">Sequencing Depth</text>
<text x="340.7" y="1328.3" font-size="24.5">Sequences</text>
<text x="340.7" y="1356.7" font-size="24.5">recovered</text>
<text x="340.7" y="1388.3" font-size="24.5" textLength="151.0" lengthAdjust="spacing">from sampling</text>
<text x="215.0" y="1458.0" font-size="31.0" text-anchor="end" transform="rotate(-45.0 215.0 1458.0)">R1 - DNA library</text>
<text x="280.0" y="1458.0" font-size="31.0" text-anchor="end" transform="rotate(-45.0 280.0 1458.0)">R1 - Virus library</text>
<text x="516.7" y="1133.3" font-size="46.0" font-weight="bold" fill="#111">d</text>
<text x="584.4" y="1288.6" font-size="30.5" text-anchor="middle" textLength="257.8" lengthAdjust="spacing" transform="rotate(-90.0 584.4 1288.6)">Library overlap (%)</text>
<line x1="670.8" y1="1179.5" x2="670.8" y2="1410.0" stroke="#222" stroke-width="2.2" />
<line x1="666.8" y1="1233.8" x2="670.8" y2="1233.8" stroke="#333" stroke-width="1.4" />
<line x1="666.8" y1="1220.3" x2="670.8" y2="1220.3" stroke="#333" stroke-width="1.4" />
<line x1="666.8" y1="1210.8" x2="670.8" y2="1210.8" stroke="#333" stroke-width="1.4" />
<line x1="666.8" y1="1203.4" x2="670.8" y2="1203.4" stroke="#333" stroke-width="1.4" />
<line x1="666.8" y1="1197.4" x2="670.8" y2="1197.4" stroke="#333" stroke-width="1.4" />
<line x1="666.8" y1="1192.3" x2="670.8" y2="1192.3" stroke="#333" stroke-width="1.4" />
<line x1="666.8" y1="1187.9" x2="670.8" y2="1187.9" stroke="#333" stroke-width="1.4" />
<line x1="666.8" y1="1184.0" x2="670.8" y2="1184.0" stroke="#333" stroke-width="1.4" />
<line x1="666.8" y1="1310.0" x2="670.8" y2="1310.0" stroke="#333" stroke-width="1.4" />
<line x1="666.8" y1="1296.5" x2="670.8" y2="1296.5" stroke="#333" stroke-width="1.4" />
<line x1="666.8" y1="1287.0" x2="670.8" y2="1287.0" stroke="#333" stroke-width="1.4" />
<line x1="666.8" y1="1279.6" x2="670.8" y2="1279.6" stroke="#333" stroke-width="1.4" />
<line x1="666.8" y1="1273.6" x2="670.8" y2="1273.6" stroke="#333" stroke-width="1.4" />
<line x1="666.8" y1="1268.5" x2="670.8" y2="1268.5" stroke="#333" stroke-width="1.4" />
<line x1="666.8" y1="1264.1" x2="670.8" y2="1264.1" stroke="#333" stroke-width="1.4" />
<line x1="666.8" y1="1260.2" x2="670.8" y2="1260.2" stroke="#333" stroke-width="1.4" />
<line x1="666.8" y1="1386.2" x2="670.8" y2="1386.2" stroke="#333" stroke-width="1.4" />
<line x1="666.8" y1="1372.7" x2="670.8" y2="1372.7" stroke="#333" stroke-width="1.4" />
<line x1="666.8" y1="1363.2" x2="670.8" y2="1363.2" stroke="#333" stroke-width="1.4" />
<line x1="666.8" y1="1355.8" x2="670.8" y2="1355.8" stroke="#333" stroke-width="1.4" />
<line x1="666.8" y1="1349.8" x2="670.8" y2="1349.8" stroke="#333" stroke-width="1.4" />
<line x1="666.8" y1="1344.7" x2="670.8" y2="1344.7" stroke="#333" stroke-width="1.4" />
<line x1="666.8" y1="1340.3" x2="670.8" y2="1340.3" stroke="#333" stroke-width="1.4" />
<line x1="666.8" y1="1336.4" x2="670.8" y2="1336.4" stroke="#333" stroke-width="1.4" />
<line x1="663.8" y1="1180.5" x2="670.8" y2="1180.5" stroke="#222" stroke-width="2.0" />
<text x="657.0" y="1182.5" font-size="28.3" text-anchor="end">10</text>
<line x1="663.8" y1="1256.7" x2="670.8" y2="1256.7" stroke="#222" stroke-width="2.0" />
<text x="657.0" y="1262.5" font-size="28.3" text-anchor="end">1</text>
<line x1="663.8" y1="1332.9" x2="670.8" y2="1332.9" stroke="#222" stroke-width="2.0" />
<text x="657.0" y="1337.5" font-size="28.3" text-anchor="end">0.1</text>
<line x1="663.8" y1="1409.1" x2="670.8" y2="1409.1" stroke="#222" stroke-width="2.0" />
<text x="657.0" y="1414.5" font-size="28.3" text-anchor="end">0.01</text>
<rect x="698.3" y="1254.3" width="51.0" height="2.8" fill="#4a3422" stroke="none" stroke-width="1.0" />
<rect x="777.3" y="1256.7" width="51.0" height="145.0" fill="#990000" stroke="#111" stroke-width="1.6" />
<rect x="856.7" y="1200.0" width="50.6" height="56.7" fill="#808000" stroke="#111" stroke-width="1.6" />
<rect x="936.0" y="1192.3" width="51.3" height="64.4" fill="#0000cc" stroke="#111" stroke-width="1.6" />
<line x1="670.8" y1="1256.7" x2="1015.0" y2="1256.7" stroke="#222" stroke-width="2.0" />
<line x1="665.0" y1="1409.5" x2="1015.0" y2="1409.5" stroke="#222" stroke-width="2.2" />
<line x1="722.7" y1="1409.5" x2="722.7" y2="1416.0" stroke="#222" stroke-width="2.0" />
<line x1="802.7" y1="1409.5" x2="802.7" y2="1416.0" stroke="#222" stroke-width="2.0" />
<line x1="882.3" y1="1409.5" x2="882.3" y2="1416.0" stroke="#222" stroke-width="2.0" />
<line x1="961.7" y1="1409.5" x2="961.7" y2="1416.0" stroke="#222" stroke-width="2.0" />
<text x="724.0" y="1438.0" font-size="31.0" text-anchor="end" transform="rotate(-45.0 724.0 1438.0)">R1 DNA and virus</text>
<text x="806.0" y="1438.0" font-size="31.0" text-anchor="end" transform="rotate(-45.0 806.0 1438.0)">R1 brain (GFAP,Tek,SNAP)</text>
<text x="886.0" y="1435.0" font-size="31.0" text-anchor="end" transform="rotate(-45.0 886.0 1435.0)">R1 liver (GFAP,Tek)</text>
<text x="968.0" y="1439.0" font-size="31.0" text-anchor="end" transform="rotate(-45.0 968.0 1439.0)">R1 brain and liver</text>
<text x="1055.0" y="1133.3" font-size="46.0" font-weight="bold" fill="#111">e</text>
<text x="1326.7" y="1145.0" font-size="30.8" font-style="italic" textLength="333.3" lengthAdjust="spacing">R1 post-in vivo selection</text>
<text x="1117.8" y="1388.6" font-size="30.5" text-anchor="middle" textLength="324.5" lengthAdjust="spacing" transform="rotate(-90.0 1117.8 1388.6)">Read Counts from NGS</text>
<line x1="1221.0" y1="1557.3" x2="1738.0" y2="1557.3" stroke="#e6e6e6" stroke-width="1.3" />
<line x1="1221.0" y1="1492.6" x2="1738.0" y2="1492.6" stroke="#e6e6e6" stroke-width="1.3" />
<line x1="1221.0" y1="1428.0" x2="1738.0" y2="1428.0" stroke="#e6e6e6" stroke-width="1.3" />
<line x1="1221.0" y1="1363.3" x2="1738.0" y2="1363.3" stroke="#e6e6e6" stroke-width="1.3" />
<line x1="1221.0" y1="1298.7" x2="1738.0" y2="1298.7" stroke="#e6e6e6" stroke-width="1.3" />
<line x1="1221.0" y1="1234.0" x2="1738.0" y2="1234.0" stroke="#e6e6e6" stroke-width="1.3" />
<line x1="1359.3" y1="1174.0" x2="1359.3" y2="1579.0" stroke="#e6e6e6" stroke-width="1.3" />
<line x1="1496.7" y1="1174.0" x2="1496.7" y2="1579.0" stroke="#e6e6e6" stroke-width="1.3" />
<line x1="1634.3" y1="1174.0" x2="1634.3" y2="1579.0" stroke="#e6e6e6" stroke-width="1.3" />
<line x1="1220.5" y1="1174.3" x2="1220.5" y2="1580.4" stroke="#666" stroke-width="1.8" />
<line x1="1220.5" y1="1580.0" x2="1802.3" y2="1580.0" stroke="#666" stroke-width="1.8" />
<line x1="1359.3" y1="1574.0" x2="1359.3" y2="1580.0" stroke="#666" stroke-width="1.5" />
<line x1="1496.7" y1="1574.0" x2="1496.7" y2="1580.0" stroke="#666" stroke-width="1.5" />
<line x1="1634.3" y1="1574.0" x2="1634.3" y2="1580.0" stroke="#666" stroke-width="1.5" />
<text x="1204.0" y="1565.5" font-size="28.0" text-anchor="end">1e0</text>
<text x="1204.0" y="1500.8" font-size="28.0" text-anchor="end">1e1</text>
<text x="1204.0" y="1436.2" font-size="28.0" text-anchor="end">1e2</text>
<text x="1204.0" y="1371.5" font-size="28.0" text-anchor="end">1e3</text>
<text x="1204.0" y="1306.9" font-size="28.0" text-anchor="end">1e4</text>
<text x="1204.0" y="1242.2" font-size="28.0" text-anchor="end">1e5</text>
<text x="1225.0" y="1614.0" font-size="27.0" text-anchor="middle">1</text>
<text x="1367.3" y="1614.0" font-size="27.0" text-anchor="middle">5e3</text>
<text x="1502.0" y="1614.0" font-size="27.0" text-anchor="middle">1e4</text>
<text x="1645.8" y="1614.0" font-size="27.0" text-anchor="middle">1.5e4</text>
<text x="1271.7" y="1657.0" font-size="30.0" textLength="461.3" lengthAdjust="spacing">Ranked capsids (nucleotide level)</text>
<rect x="1640.0" y="1168.0" width="230.0" height="128.0" fill="#fff" stroke="none" stroke-width="1.0" />
<path d="M1220.7,1196 L1221,1230 C1222,1255 1223,1270 1227.6,1276.4 C1232,1285 1242,1298 1247.6,1307.8 C1251,1314 1253,1322 1257.6,1334 C1262,1340 1266,1344 1270,1347.8 C1276,1353 1282,1357 1285.2,1361.6 C1290,1368 1292,1374 1295.2,1380.4 L1305.2,1401.7 C1308,1407 1310,1410 1312.7,1413 C1318,1418 1324,1420 1329,1421.7 C1340,1428 1350,1432 1360,1435 C1380,1440 1395,1442 1406.7,1443.3 C1430,1446 1450,1449 1473.3,1451.7 C1500,1454 1520,1455.5 1540,1456.7 C1560,1458 1580,1460 1593.3,1461.7 L1595.5,1467 L1598.3,1496.7 L1600.5,1508" fill="none" stroke="#5ccc1c" stroke-width="6.6" stroke-linecap="round" stroke-linejoin="round"/>
<circle cx="1602.5" cy="1510.0" r="2.6" fill="none" stroke="#5ccc1c" stroke-width="1.4" />
<circle cx="1602.5" cy="1515.0" r="2.6" fill="none" stroke="#5ccc1c" stroke-width="1.4" />
<circle cx="1602.5" cy="1520.0" r="2.6" fill="none" stroke="#5ccc1c" stroke-width="1.4" />
<circle cx="1602.5" cy="1526.7" r="2.6" fill="none" stroke="#5ccc1c" stroke-width="1.4" />
<rect x="1601.7" y="1535.3" width="15.6" height="6.0" fill="#5ccc1c" stroke="none" stroke-width="1.0" rx="3"/>
<rect x="1611.7" y="1554.3" width="98.3" height="6.2" fill="#5ccc1c" stroke="none" stroke-width="1.0" rx="3"/>
<path d="M1217.5,1305.3 C1219,1310 1220,1314 1222.5,1316.5 C1226,1320 1229,1321 1232.6,1324 C1236,1327 1239,1331 1242.6,1335.3 C1245,1338 1247,1341 1248.8,1344.1 C1251,1348 1253,1351 1255.1,1355.3 C1256.5,1360 1257,1365 1257,1370.4 L1257.6,1395.4 L1258.4,1440 L1259.6,1494" fill="none" stroke="#d98a1c" stroke-width="5.0" stroke-linecap="round" stroke-linejoin="round"/>
<circle cx="1261.0" cy="1498.0" r="2.5" fill="none" stroke="#d98a1c" stroke-width="1.3" />
<circle cx="1261.0" cy="1503.0" r="2.5" fill="none" stroke="#d98a1c" stroke-width="1.3" />
<circle cx="1261.0" cy="1508.0" r="2.5" fill="none" stroke="#d98a1c" stroke-width="1.3" />
<circle cx="1261.0" cy="1513.0" r="2.5" fill="none" stroke="#d98a1c" stroke-width="1.3" />
<circle cx="1261.0" cy="1518.0" r="2.5" fill="none" stroke="#d98a1c" stroke-width="1.3" />
<circle cx="1261.0" cy="1523.0" r="2.5" fill="none" stroke="#d98a1c" stroke-width="1.3" />
<circle cx="1261.0" cy="1528.0" r="2.5" fill="none" stroke="#d98a1c" stroke-width="1.3" />
<circle cx="1261.0" cy="1538.3" r="2.5" fill="none" stroke="#d98a1c" stroke-width="1.3" />
<rect x="1260.0" y="1554.3" width="11.5" height="6.2" fill="#d98a1c" stroke="none" stroke-width="1.0" rx="3"/>
<line x1="1220.8" y1="1214.0" x2="1220.8" y2="1229.0" stroke="#8c7a3c" stroke-width="6.5" />
<path d="M1220.8,1229 L1221,1240 C1221.8,1262 1223,1290 1225,1307.8 C1226.5,1325 1228,1340 1230,1352 C1232,1365 1234,1373 1237,1380 C1242,1392 1246,1398 1249,1405 L1259,1427 L1289,1512" fill="none" stroke="#f81ae8" stroke-width="7.0" stroke-linecap="round" stroke-linejoin="round"/>
<circle cx="1291.0" cy="1518.0" r="2.8" fill="none" stroke="#f81ae8" stroke-width="1.5" />
<circle cx="1292.5" cy="1523.0" r="2.8" fill="none" stroke="#f81ae8" stroke-width="1.5" />
<circle cx="1293.5" cy="1527.5" r="2.8" fill="none" stroke="#f81ae8" stroke-width="1.5" />
<rect x="1292.5" y="1535.3" width="14.5" height="6.2" fill="#f81ae8" stroke="none" stroke-width="1.0" rx="3"/>
<rect x="1303.3" y="1554.3" width="34.4" height="6.2" fill="#f81ae8" stroke="none" stroke-width="1.0" rx="3"/>
<line x1="1225.0" y1="1427.9" x2="1788.3" y2="1427.9" stroke="#222" stroke-width="4.6" stroke-dasharray="49.5 12.5" stroke-dashoffset="23.8"/>
<circle cx="1221.0" cy="1209.3" r="6.5" fill="#f81ae8" stroke="#222" stroke-width="1.6" />
<circle cx="1257.3" cy="1335.0" r="6.5" fill="#1db41d" stroke="#222" stroke-width="1.6" />
<circle cx="1248.3" cy="1344.3" r="6.5" fill="#d98a1c" stroke="#222" stroke-width="1.6" />
<text x="1329.3" y="1379.3" font-size="28.7" font-style="italic" textLength="582.4" lengthAdjust="spacing">Signal: Input for R2 selection (~9000 variants)</text>
<text x="1635.0" y="1494.0" font-size="28.0" font-style="italic" textLength="71.7" lengthAdjust="spacing">Noise</text>
<circle cx="1685.7" cy="1185.0" r="6.0" fill="#ff1ef0" stroke="none" stroke-width="1.0" />
<text x="1705.0" y="1192.7" font-size="25.9" textLength="105.0" lengthAdjust="spacing">Tek brain</text>
<circle cx="1685.7" cy="1215.7" r="6.0" fill="#66cc33" stroke="none" stroke-width="1.0" />
<text x="1705.0" y="1223.3" font-size="25.9" textLength="135.0" lengthAdjust="spacing">SNAP brain</text>
<circle cx="1685.7" cy="1245.7" r="6.0" fill="#e08a1e" stroke="none" stroke-width="1.0" />
<text x="1705.0" y="1254.0" font-size="25.9" textLength="133.3" lengthAdjust="spacing">GFAP brain</text>
<circle cx="1646.0" cy="1274.3" r="6.8" fill="#f01ee6" stroke="#222" stroke-width="1.6" />
<circle cx="1664.3" cy="1274.3" r="6.8" fill="#1db41d" stroke="#222" stroke-width="1.6" />
<circle cx="1683.3" cy="1274.3" r="6.8" fill="#d98a1c" stroke="#222" stroke-width="1.6" />
<text x="1705.0" y="1285.0" font-size="25.9" textLength="146.7" lengthAdjust="spacing">AAV-PHP.V2</text>
<rect x="6.0" y="1765.0" width="1930.6" height="650.5" fill="none" stroke="#222" stroke-width="4.0" />
<text x="3.3" y="1755.0" font-size="35.0" font-style="italic" fill="#1a1a1a" textLength="789.0" lengthAdjust="spacing">Optimization of rAAV genome recovery from tissue</text>
<text x="51.7" y="1811.7" font-size="46.0" font-weight="bold" fill="#111">f</text>
<text x="108.0" y="2016.1" font-size="31.0" fill="#1e1e1e" text-anchor="middle" textLength="269.0" lengthAdjust="spacing" transform="rotate(-90.0 108.0 2016.1)">Total rAAV genome</text>
<text x="145.1" y="2011.0" font-size="31.0" fill="#1e1e1e" text-anchor="middle" textLength="349.7" lengthAdjust="spacing" transform="rotate(-90.0 145.1 2011.0)">recovery from tissues (fg)</text>
<line x1="272.7" y1="1850.0" x2="272.7" y2="2190.7" stroke="#222" stroke-width="2.2" />
<line x1="264.7" y1="2190.7" x2="272.7" y2="2190.7" stroke="#222" stroke-width="2.2" />
<text x="240.0" y="2193.2" font-size="30.5" fill="#1e1e1e" text-anchor="end">0</text>
<line x1="264.7" y1="2122.7" x2="272.7" y2="2122.7" stroke="#222" stroke-width="2.2" />
<text x="250.0" y="2132.2" font-size="30.5" fill="#1e1e1e" text-anchor="end">1000</text>
<line x1="264.7" y1="2054.7" x2="272.7" y2="2054.7" stroke="#222" stroke-width="2.2" />
<text x="250.0" y="2064.2" font-size="30.5" fill="#1e1e1e" text-anchor="end">2000</text>
<line x1="264.7" y1="1986.7" x2="272.7" y2="1986.7" stroke="#222" stroke-width="2.2" />
<text x="250.0" y="1996.2" font-size="30.5" fill="#1e1e1e" text-anchor="end">3000</text>
<line x1="264.7" y1="1918.7" x2="272.7" y2="1918.7" stroke="#222" stroke-width="2.2" />
<text x="250.0" y="1928.2" font-size="30.5" fill="#1e1e1e" text-anchor="end">4000</text>
<line x1="264.7" y1="1850.7" x2="272.7" y2="1850.7" stroke="#222" stroke-width="2.2" />
<text x="250.0" y="1860.2" font-size="30.5" fill="#1e1e1e" text-anchor="end">5000</text>
<line x1="263.3" y1="2190.7" x2="475.0" y2="2190.7" stroke="#222" stroke-width="2.4" />
<line x1="322.7" y1="2190.7" x2="322.7" y2="2198.7" stroke="#222" stroke-width="2.2" />
<line x1="424.0" y1="2190.7" x2="424.0" y2="2198.7" stroke="#222" stroke-width="2.2" />
<line x1="322.7" y1="1862.7" x2="422.7" y2="1862.7" stroke="#222" stroke-width="2.2" />
<text x="370.7" y="1868.0" font-size="38.0" fill="#1e1e1e" text-anchor="middle">*</text>
<circle cx="332.3" cy="1905.0" r="7.3" fill="#111" stroke="none" stroke-width="1.0" />
<circle cx="311.7" cy="1921.7" r="7.3" fill="#111" stroke="none" stroke-width="1.0" />
<circle cx="322.3" cy="1943.3" r="7.3" fill="#111" stroke="none" stroke-width="1.0" />
<circle cx="322.3" cy="2005.0" r="7.3" fill="#111" stroke="none" stroke-width="1.0" />
<line x1="288.3" y1="1943.3" x2="356.0" y2="1943.3" stroke="#222" stroke-width="2.2" />
<line x1="322.3" y1="1921.0" x2="322.3" y2="1965.7" stroke="#222" stroke-width="2.2" />
<line x1="313.3" y1="1921.0" x2="331.3" y2="1921.0" stroke="#222" stroke-width="2.2" />
<line x1="313.3" y1="1965.7" x2="331.3" y2="1965.7" stroke="#222" stroke-width="2.2" />
<circle cx="402.7" cy="2171.7" r="7.3" fill="#111" stroke="none" stroke-width="1.0" />
<circle cx="424.0" cy="2161.7" r="7.3" fill="#111" stroke="none" stroke-width="1.0" />
<circle cx="444.0" cy="2181.0" r="7.3" fill="#111" stroke="none" stroke-width="1.0" />
<circle cx="424.0" cy="2186.7" r="7.3" fill="#111" stroke="none" stroke-width="1.0" />
<line x1="390.7" y1="2175.0" x2="456.7" y2="2175.0" stroke="#222" stroke-width="2.2" />
<line x1="424.0" y1="2170.0" x2="424.0" y2="2180.0" stroke="#222" stroke-width="2.2" />
<line x1="415.0" y1="2170.0" x2="433.0" y2="2170.0" stroke="#222" stroke-width="2.2" />
<line x1="415.0" y1="2180.0" x2="433.0" y2="2180.0" stroke="#222" stroke-width="2.2" />
<text x="327.0" y="2214.0" font-size="31.3" fill="#1e1e1e" text-anchor="end" transform="rotate(-45.0 327.0 2214.0)">Trizol</text>
<text x="429.0" y="2211.0" font-size="31.3" fill="#1e1e1e" text-anchor="end" transform="rotate(-45.0 429.0 2211.0)">QIAprep (miniprep)</text>
<text x="502.7" y="1810.0" font-size="46.0" font-weight="bold" fill="#111">g</text>
<text x="588.4" y="2012.7" font-size="31.0" fill="#1e1e1e" text-anchor="middle" textLength="384.6" lengthAdjust="spacing" transform="rotate(-90.0 588.4 2012.7)">rAAV genome/ ng total DNA</text>
<text x="624.6" y="2016.7" font-size="31.0" fill="#1e1e1e" text-anchor="middle" textLength="364.8" lengthAdjust="spacing" transform="rotate(-90.0 624.6 2016.7)">extracted from tissues (%)</text>
<line x1="713.3" y1="1846.0" x2="713.3" y2="2187.5" stroke="#222" stroke-width="2.2" />
<line x1="705.3" y1="2187.5" x2="713.3" y2="2187.5" stroke="#222" stroke-width="2.2" />
<text x="690.5" y="2190.0" font-size="30.5" fill="#1e1e1e" text-anchor="end">10</text>
<line x1="705.3" y1="2119.2" x2="713.3" y2="2119.2" stroke="#222" stroke-width="2.2" />
<text x="690.5" y="2128.7" font-size="30.5" fill="#1e1e1e" text-anchor="end">12</text>
<line x1="705.3" y1="2050.9" x2="713.3" y2="2050.9" stroke="#222" stroke-width="2.2" />
<text x="690.5" y="2060.4" font-size="30.5" fill="#1e1e1e" text-anchor="end">14</text>
<line x1="705.3" y1="1982.6" x2="713.3" y2="1982.6" stroke="#222" stroke-width="2.2" />
<text x="690.5" y="1992.1" font-size="30.5" fill="#1e1e1e" text-anchor="end">16</text>
<line x1="705.3" y1="1914.3" x2="713.3" y2="1914.3" stroke="#222" stroke-width="2.2" />
<text x="690.5" y="1923.8" font-size="30.5" fill="#1e1e1e" text-anchor="end">18</text>
<line x1="705.3" y1="1846.0" x2="713.3" y2="1846.0" stroke="#222" stroke-width="2.2" />
<text x="690.5" y="1855.5" font-size="30.5" fill="#1e1e1e" text-anchor="end">20</text>
<line x1="703.3" y1="2187.5" x2="917.3" y2="2187.5" stroke="#222" stroke-width="2.4" />
<line x1="764.0" y1="2187.5" x2="764.0" y2="2195.5" stroke="#222" stroke-width="2.2" />
<line x1="865.7" y1="2187.5" x2="865.7" y2="2195.5" stroke="#222" stroke-width="2.2" />
<line x1="763.3" y1="1866.7" x2="865.7" y2="1866.7" stroke="#222" stroke-width="2.2" />
<text x="812.3" y="1871.3" font-size="38.0" fill="#1e1e1e" text-anchor="middle">*</text>
<circle cx="764.0" cy="2051.0" r="7.3" fill="#111" stroke="none" stroke-width="1.0" />
<circle cx="764.0" cy="2081.7" r="7.3" fill="#111" stroke="none" stroke-width="1.0" />
<circle cx="753.3" cy="2130.0" r="7.3" fill="#111" stroke="none" stroke-width="1.0" />
<circle cx="774.3" cy="2130.0" r="7.3" fill="#111" stroke="none" stroke-width="1.0" />
<line x1="730.0" y1="2098.3" x2="797.3" y2="2098.3" stroke="#222" stroke-width="2.2" />
<line x1="764.0" y1="2090.0" x2="764.0" y2="2117.3" stroke="#222" stroke-width="2.2" />
<line x1="755.0" y1="2090.0" x2="773.0" y2="2090.0" stroke="#222" stroke-width="2.2" />
<line x1="755.0" y1="2117.3" x2="773.0" y2="2117.3" stroke="#222" stroke-width="2.2" />
<circle cx="865.7" cy="1918.3" r="7.3" fill="#111" stroke="none" stroke-width="1.0" />
<circle cx="865.7" cy="1948.3" r="7.3" fill="#111" stroke="none" stroke-width="1.0" />
<circle cx="865.7" cy="1970.0" r="7.3" fill="#111" stroke="none" stroke-width="1.0" />
<circle cx="865.7" cy="2024.3" r="7.3" fill="#111" stroke="none" stroke-width="1.0" />
<line x1="831.7" y1="1965.0" x2="898.3" y2="1965.0" stroke="#222" stroke-width="2.2" />
<line x1="865.7" y1="1942.7" x2="865.7" y2="1987.7" stroke="#222" stroke-width="2.2" />
<line x1="856.7" y1="1942.7" x2="874.7" y2="1942.7" stroke="#222" stroke-width="2.2" />
<line x1="856.7" y1="1987.7" x2="874.7" y2="1987.7" stroke="#222" stroke-width="2.2" />
<text x="766.0" y="2214.0" font-size="31.3" fill="#1e1e1e" text-anchor="end" transform="rotate(-45.0 766.0 2214.0)">Trizol</text>
<text x="871.0" y="2213.0" font-size="31.3" fill="#1e1e1e" text-anchor="end" transform="rotate(-45.0 871.0 2213.0)">QIAprep (miniprep)</text>
<text x="980.0" y="1813.3" font-size="46.0" font-weight="bold" fill="#111">h</text>
<text x="1058.4" y="2032.2" font-size="31.0" fill="#1e1e1e" text-anchor="middle" textLength="295.4" lengthAdjust="spacing" transform="rotate(-90.0 1058.4 2032.2)">Mean CT value (rAAV</text>
<text x="1093.6" y="2021.3" font-size="31.0" fill="#1e1e1e" text-anchor="middle" textLength="385.4" lengthAdjust="spacing" transform="rotate(-90.0 1093.6 2021.3)">genome/ ng recovered DNA)</text>
<line x1="1196.3" y1="1874.0" x2="1196.3" y2="2187.0" stroke="#222" stroke-width="2.2" />
<line x1="1188.3" y1="2187.3" x2="1196.3" y2="2187.3" stroke="#222" stroke-width="2.2" />
<text x="1173.0" y="2189.8" font-size="30.5" fill="#1e1e1e" text-anchor="end">16</text>
<line x1="1188.3" y1="2108.9" x2="1196.3" y2="2108.9" stroke="#222" stroke-width="2.2" />
<text x="1173.0" y="2118.4" font-size="30.5" fill="#1e1e1e" text-anchor="end">18</text>
<line x1="1188.3" y1="2030.5" x2="1196.3" y2="2030.5" stroke="#222" stroke-width="2.2" />
<text x="1173.0" y="2040.0" font-size="30.5" fill="#1e1e1e" text-anchor="end">20</text>
<line x1="1188.3" y1="1952.1" x2="1196.3" y2="1952.1" stroke="#222" stroke-width="2.2" />
<text x="1173.0" y="1961.6" font-size="30.5" fill="#1e1e1e" text-anchor="end">22</text>
<line x1="1188.3" y1="1873.7" x2="1196.3" y2="1873.7" stroke="#222" stroke-width="2.2" />
<text x="1173.0" y="1883.2" font-size="30.5" fill="#1e1e1e" text-anchor="end">24</text>
<line x1="1187.0" y1="2187.0" x2="1405.0" y2="2187.0" stroke="#222" stroke-width="2.4" />
<line x1="1248.3" y1="2187.0" x2="1248.3" y2="2195.0" stroke="#222" stroke-width="2.2" />
<line x1="1351.7" y1="2187.0" x2="1351.7" y2="2195.0" stroke="#222" stroke-width="2.2" />
<line x1="1249.3" y1="1887.7" x2="1350.0" y2="1887.7" stroke="#222" stroke-width="2.2" />
<text x="1297.8" y="1880.7" font-size="29.0" fill="#1e1e1e" text-anchor="middle">ns</text>
<circle cx="1248.3" cy="2017.3" r="7.3" fill="#111" stroke="none" stroke-width="1.0" />
<circle cx="1248.3" cy="2055.0" r="7.3" fill="#111" stroke="none" stroke-width="1.0" />
<circle cx="1238.3" cy="2104.0" r="7.3" fill="#111" stroke="none" stroke-width="1.0" />
<circle cx="1257.3" cy="2100.7" r="7.3" fill="#111" stroke="none" stroke-width="1.0" />
<line x1="1213.3" y1="2069.0" x2="1281.7" y2="2069.0" stroke="#222" stroke-width="2.2" />
<line x1="1248.3" y1="2048.3" x2="1248.3" y2="2089.3" stroke="#222" stroke-width="2.2" />
<line x1="1239.3" y1="2048.3" x2="1257.3" y2="2048.3" stroke="#222" stroke-width="2.2" />
<line x1="1239.3" y1="2089.3" x2="1257.3" y2="2089.3" stroke="#222" stroke-width="2.2" />
<circle cx="1351.0" cy="1946.7" r="7.3" fill="#111" stroke="none" stroke-width="1.0" />
<circle cx="1351.0" cy="1983.3" r="7.3" fill="#111" stroke="none" stroke-width="1.0" />
<circle cx="1360.0" cy="2034.0" r="7.3" fill="#111" stroke="none" stroke-width="1.0" />
<circle cx="1341.7" cy="2051.0" r="7.3" fill="#111" stroke="none" stroke-width="1.0" />
<line x1="1316.7" y1="2003.3" x2="1385.0" y2="2003.3" stroke="#222" stroke-width="2.2" />
<line x1="1351.0" y1="1979.3" x2="1351.0" y2="2026.7" stroke="#222" stroke-width="2.2" />
<line x1="1342.0" y1="1979.3" x2="1360.0" y2="1979.3" stroke="#222" stroke-width="2.2" />
<line x1="1342.0" y1="2026.7" x2="1360.0" y2="2026.7" stroke="#222" stroke-width="2.2" />
<text x="1248.0" y="2212.0" font-size="31.3" fill="#1e1e1e" text-anchor="end" transform="rotate(-45.0 1248.0 2212.0)">SmaI digested</text>
<text x="1359.0" y="2216.0" font-size="31.3" fill="#1e1e1e" text-anchor="end" transform="rotate(-45.0 1359.0 2216.0)">undigested (control)</text>
<text x="1461.7" y="1812.7" font-size="46.0" font-weight="bold" fill="#111">i</text>
<text x="1534.8" y="2003.4" font-size="31.0" fill="#1e1e1e" text-anchor="middle" textLength="410.6" lengthAdjust="spacing" transform="rotate(-90.0 1534.8 2003.4)">Mean CT value (mitochondrial</text>
<text x="1571.0" y="2001.8" font-size="31.0" fill="#1e1e1e" text-anchor="middle" textLength="347.6" lengthAdjust="spacing" transform="rotate(-90.0 1571.0 2001.8)">DNA/ ng recovered DNA)</text>
<line x1="1662.7" y1="1831.0" x2="1662.7" y2="2184.4" stroke="#222" stroke-width="2.2" />
<line x1="1654.7" y1="2184.4" x2="1662.7" y2="2184.4" stroke="#222" stroke-width="2.2" />
<text x="1637.5" y="2186.9" font-size="30.5" fill="#1e1e1e" text-anchor="end">8</text>
<line x1="1654.7" y1="2113.9" x2="1662.7" y2="2113.9" stroke="#222" stroke-width="2.2" />
<text x="1637.5" y="2123.4" font-size="30.5" fill="#1e1e1e" text-anchor="end">10</text>
<line x1="1654.7" y1="2043.3" x2="1662.7" y2="2043.3" stroke="#222" stroke-width="2.2" />
<text x="1637.5" y="2052.8" font-size="30.5" fill="#1e1e1e" text-anchor="end">12</text>
<line x1="1654.7" y1="1972.8" x2="1662.7" y2="1972.8" stroke="#222" stroke-width="2.2" />
<text x="1637.5" y="1982.3" font-size="30.5" fill="#1e1e1e" text-anchor="end">14</text>
<line x1="1654.7" y1="1902.2" x2="1662.7" y2="1902.2" stroke="#222" stroke-width="2.2" />
<text x="1637.5" y="1911.7" font-size="30.5" fill="#1e1e1e" text-anchor="end">16</text>
<line x1="1654.7" y1="1831.7" x2="1662.7" y2="1831.7" stroke="#222" stroke-width="2.2" />
<text x="1637.5" y="1841.2" font-size="30.5" fill="#1e1e1e" text-anchor="end">18</text>
<line x1="1653.2" y1="2184.4" x2="1857.6" y2="2184.4" stroke="#222" stroke-width="2.4" />
<line x1="1711.2" y1="2184.4" x2="1711.2" y2="2192.4" stroke="#222" stroke-width="2.2" />
<line x1="1808.3" y1="2184.4" x2="1808.3" y2="2192.4" stroke="#222" stroke-width="2.2" />
<line x1="1709.1" y1="1836.9" x2="1810.6" y2="1836.9" stroke="#222" stroke-width="2.2" />
<text x="1757.6" y="1840.0" font-size="38.0" fill="#1e1e1e" text-anchor="middle">*</text>
<circle cx="1711.2" cy="1881.2" r="7.3" fill="#111" stroke="none" stroke-width="1.0" />
<circle cx="1711.2" cy="1957.2" r="7.3" fill="#111" stroke="none" stroke-width="1.0" />
<circle cx="1721.3" cy="1968.0" r="7.3" fill="#111" stroke="none" stroke-width="1.0" />
<circle cx="1700.4" cy="1987.1" r="7.3" fill="#111" stroke="none" stroke-width="1.0" />
<line x1="1679.3" y1="1947.9" x2="1743.1" y2="1947.9" stroke="#222" stroke-width="2.2" />
<line x1="1711.2" y1="1924.7" x2="1711.2" y2="1970.8" stroke="#222" stroke-width="2.2" />
<line x1="1702.2" y1="1924.7" x2="1720.2" y2="1924.7" stroke="#222" stroke-width="2.2" />
<line x1="1702.2" y1="1970.8" x2="1720.2" y2="1970.8" stroke="#222" stroke-width="2.2" />
<circle cx="1797.6" cy="2038.0" r="7.3" fill="#111" stroke="none" stroke-width="1.0" />
<circle cx="1818.5" cy="2045.5" r="7.3" fill="#111" stroke="none" stroke-width="1.0" />
<circle cx="1818.5" cy="2088.7" r="7.3" fill="#111" stroke="none" stroke-width="1.0" />
<circle cx="1797.6" cy="2104.7" r="7.3" fill="#111" stroke="none" stroke-width="1.0" />
<line x1="1775.8" y1="2068.7" x2="1839.6" y2="2068.7" stroke="#222" stroke-width="2.2" />
<line x1="1808.3" y1="2052.8" x2="1808.3" y2="2085.3" stroke="#222" stroke-width="2.2" />
<line x1="1799.3" y1="2052.8" x2="1817.3" y2="2052.8" stroke="#222" stroke-width="2.2" />
<line x1="1799.3" y1="2085.3" x2="1817.3" y2="2085.3" stroke="#222" stroke-width="2.2" />
<text x="1721.0" y="2212.5" font-size="31.3" fill="#1e1e1e" text-anchor="end" transform="rotate(-45.0 1721.0 2212.5)">Trizol</text>
<text x="1813.0" y="2206.0" font-size="31.3" fill="#1e1e1e" text-anchor="end" transform="rotate(-45.0 1813.0 2206.0)">QIAprep (miniprep)</text>
</svg></body></html>
